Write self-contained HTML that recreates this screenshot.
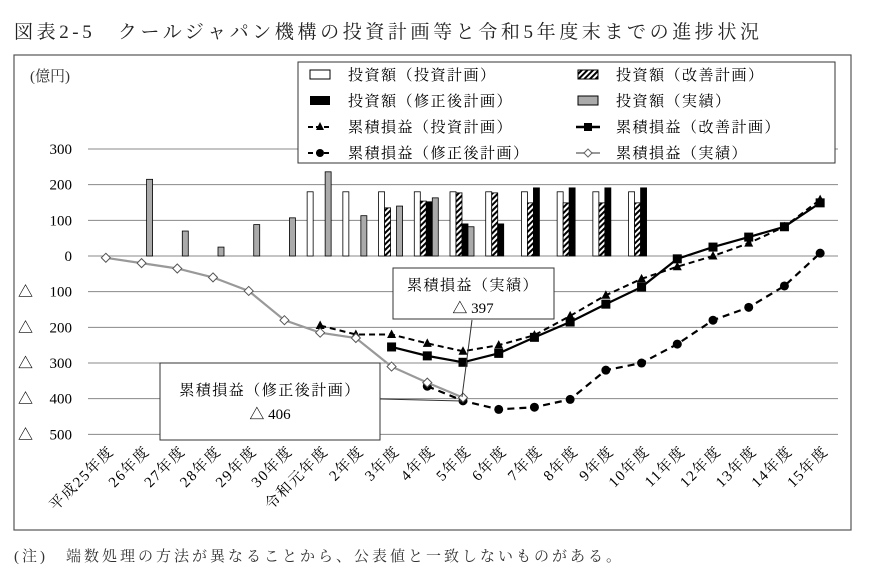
<!DOCTYPE html>
<html><head><meta charset="utf-8">
<style>
body{margin:0;background:#fff;}
svg{display:block;font-family:"Liberation Serif","Noto Serif CJK JP","Noto Serif CJK SC",serif;}
.lg{letter-spacing:1.5px;}
</style></head>
<body>
<svg id="chart" width="873" height="579" viewBox="0 0 873 579" xmlns="http://www.w3.org/2000/svg">
<defs>
<pattern id="hatch" patternUnits="userSpaceOnUse" width="4" height="4" patternTransform="rotate(45)">
<rect width="4" height="4" fill="#fff"/><rect width="2" height="4" fill="#000"/>
</pattern>
</defs>
<text x="14" y="38" font-size="19" letter-spacing="3.6" fill="#222">図表2-5　クールジャパン機構の投資計画等と令和5年度末までの進捗状況</text>
<rect x="14" y="55" width="837" height="475" fill="none" stroke="#555" stroke-width="1.2"/>
<text x="30" y="81" font-size="15" fill="#333">(億円)</text>
<g id="grid"></g>
<g id="bars"></g>
<g id="lines"></g>
<g id="xlabels"></g>
<g>
<rect x="298" y="62" width="537" height="101" fill="#fff" stroke="#333" stroke-width="1"/>
<rect x="310" y="70" width="20" height="9" fill="#fff" stroke="#000"/>
<text class="lg" x="348" y="80" font-size="15">投資額（投資計画）</text>
<rect x="578" y="70" width="20" height="9" fill="url(#hatch)" stroke="#000"/>
<text class="lg" x="616" y="80" font-size="15">投資額（改善計画）</text>
<rect x="310" y="96" width="20" height="9" fill="#000"/>
<text class="lg" x="348" y="106" font-size="15">投資額（修正後計画）</text>
<rect x="578" y="96" width="20" height="9" fill="#aaa" stroke="#000"/>
<text class="lg" x="616" y="106" font-size="15">投資額（実績）</text>
<line x1="308" y1="127" x2="332" y2="127" stroke="#000" stroke-width="2" stroke-dasharray="5,3"/>
<polygon points="320,122 324,130 316,130" fill="#000"/>
<text class="lg" x="348" y="132" font-size="15">累積損益（投資計画）</text>
<line x1="576" y1="127" x2="600" y2="127" stroke="#000" stroke-width="2.5"/>
<rect x="584" y="123" width="8" height="8" fill="#000"/>
<text class="lg" x="616" y="132" font-size="15">累積損益（改善計画）</text>
<line x1="308" y1="153" x2="332" y2="153" stroke="#000" stroke-width="2" stroke-dasharray="5,3"/>
<circle cx="320" cy="153" r="4" fill="#000"/>
<text class="lg" x="348" y="158" font-size="15">累積損益（修正後計画）</text>
<line x1="576" y1="153" x2="600" y2="153" stroke="#999" stroke-width="2"/>
<polygon points="588,149 592,153 588,157 584,153" fill="#fff" stroke="#666"/>
<text class="lg" x="616" y="158" font-size="15">累積損益（実績）</text>
</g>
<g>
<line x1="472" y1="320" x2="462" y2="397" stroke="#333"/>
<rect x="393" y="268" width="161" height="51" fill="#fff" stroke="#333"/>
<text class="lg" x="473" y="290" font-size="15" text-anchor="middle">累積損益（実績）</text>
<text x="473" y="313" font-size="15" text-anchor="middle">△ 397</text>
</g>
<g>
<line x1="380" y1="399" x2="462" y2="401" stroke="#333"/>
<rect x="160" y="363" width="220" height="77" fill="#fff" stroke="#333"/>
<text class="lg" x="270" y="395" font-size="15" text-anchor="middle">累積損益（修正後計画）</text>
<text x="270" y="419" font-size="15" text-anchor="middle">△ 406</text>
</g>
<text x="14" y="561" font-size="15" letter-spacing="3" fill="#333">(注)　端数処理の方法が異なることから、公表値と一致しないものがある。</text>
</svg>
<script>
const categories=["平成25年度","26年度","27年度","28年度","29年度","30年度","令和元年度","2年度","3年度","4年度","5年度","6年度","7年度","8年度","9年度","10年度","11年度","12年度","13年度","14年度","15年度"];
const yTicks=[300,200,100,0,-100,-200,-300,-400,-500];
const yTickLabels=["300","200","100","0","△ 100","△ 200","△ 300","△ 400","△ 500"];
const invPlanBars=[null,null,null,null,null,null,180,180,180,180,180,180,180,180,180,180,null,null,null,null,null];
const impPlanBars=[null,null,null,null,null,null,null,null,135,154,177,177,149,149,149,149,null,null,null,null,null];
const revPlanBars=[null,null,null,null,null,null,null,null,null,152,90,90,191,191,191,191,null,null,null,null,null];
const actualBars=[null,215,70,25,88,107,236,113,140,163,82,null,null,null,null,null,null,null,null,null,null];
const cumInvPlan=[null,null,null,null,null,null,-195,-220,-220,-245,-267,-250,-222,-168,-110,-64,-30,0,36,82,158];
const cumImpPlan=[null,null,null,null,null,null,null,null,-255,-280,-298,-273,-228,-185,-135,-87,-8,25,53,82,149];
const cumRevPlan=[null,null,null,null,null,null,null,null,null,-365,-406,-430,-424,-402,-320,-300,-247,-180,-144,-84,8];
const cumActual=[-5,-20,-35,-60,-98,-180,-215,-230,-310,-355,-397,null,null,null,null,null,null,null,null,null,null];

const NS="http://www.w3.org/2000/svg";
const X0=88,X1=838,step=(X1-X0)/categories.length;
const xc=i=>X0+step*(i+0.5);
const y=v=>256-v*0.3567;
function mk(tag,attrs,parent){const e=document.createElementNS(NS,tag);for(const k in attrs)e.setAttribute(k,attrs[k]);parent.appendChild(e);return e;}
const grid=document.getElementById('grid');
yTicks.forEach((t,i)=>{
  const l=mk('line',{x1:X0,x2:X1,y1:y(t),y2:y(t),stroke:'#888','stroke-width':1},grid);
  
  
  const lab=yTickLabels[i];
  if(lab.startsWith('△')){
    const a=mk('text',{x:18,y:y(t)+5,'font-size':15},grid);a.textContent='△';
    
    
    const b=mk('text',{x:72,y:y(t)+5,'font-size':15,'text-anchor':'end'},grid);b.textContent=lab.slice(2);
    
    
  }else{
    const b=mk('text',{x:72,y:y(t)+5,'font-size':15,'text-anchor':'end'},grid);b.textContent=lab;
    
    
  }
});
const bars=document.getElementById('bars');
const barSeries=[[invPlanBars,'#fff',-10],[impPlanBars,'url(#hatch)',-4],[revPlanBars,'#000',2],[actualBars,'#aaa',8]];
barSeries.forEach(([arr,fill,off])=>{
  arr.forEach((v,i)=>{
    if(v==null)return;
    const r=mk('rect',{x:xc(i)+off-3,y:y(v),width:6,height:y(0)-y(v),fill:fill,stroke:'#000','stroke-width':0.8},bars);
    
    
  });
});
const lines=document.getElementById('lines');
function series(arr,stroke,w,dash,marker){
  const pts=[];arr.forEach((v,i)=>{if(v!=null)pts.push([xc(i),y(v)]);});
  const p=mk('polyline',{points:pts.map(p=>p.join(',')).join(' '),fill:'none',stroke:stroke,'stroke-width':w},lines);
  if(dash)p.setAttribute('stroke-dasharray',dash);
  
  
  pts.forEach(([px,py])=>{
    let m;
    if(marker==='tri')m=mk('polygon',{points:`${px},${py-5} ${px+4.5},${py+3.5} ${px-4.5},${py+3.5}`,fill:'#000'},lines);
    else if(marker==='sq')m=mk('rect',{x:px-4.5,y:py-4.5,width:9,height:9,fill:'#000'},lines);
    else if(marker==='circ')m=mk('circle',{cx:px,cy:py,r:4.5,fill:'#000'},lines);
    else m=mk('polygon',{points:`${px},${py-4.5} ${px+4.5},${py} ${px},${py+4.5} ${px-4.5},${py}`,fill:'#fff',stroke:'#555','stroke-width':1},lines);
    
    
  });
}
series(cumRevPlan,'#000',2.2,'7,5','circ');
series(cumInvPlan,'#000',2,'6,4','tri');
series(cumImpPlan,'#000',2.2,null,'sq');
series(cumActual,'#999',2.2,null,'dia');
const xl=document.getElementById('xlabels');
categories.forEach((c,i)=>{
  const t=mk('text',{x:xc(i)+9,y:452,'font-size':15,'letter-spacing':1.5,'text-anchor':'end',transform:`rotate(-45 ${xc(i)+9} 452)`},xl);
  t.textContent=c;
  
  
});
</script>
</body></html>
